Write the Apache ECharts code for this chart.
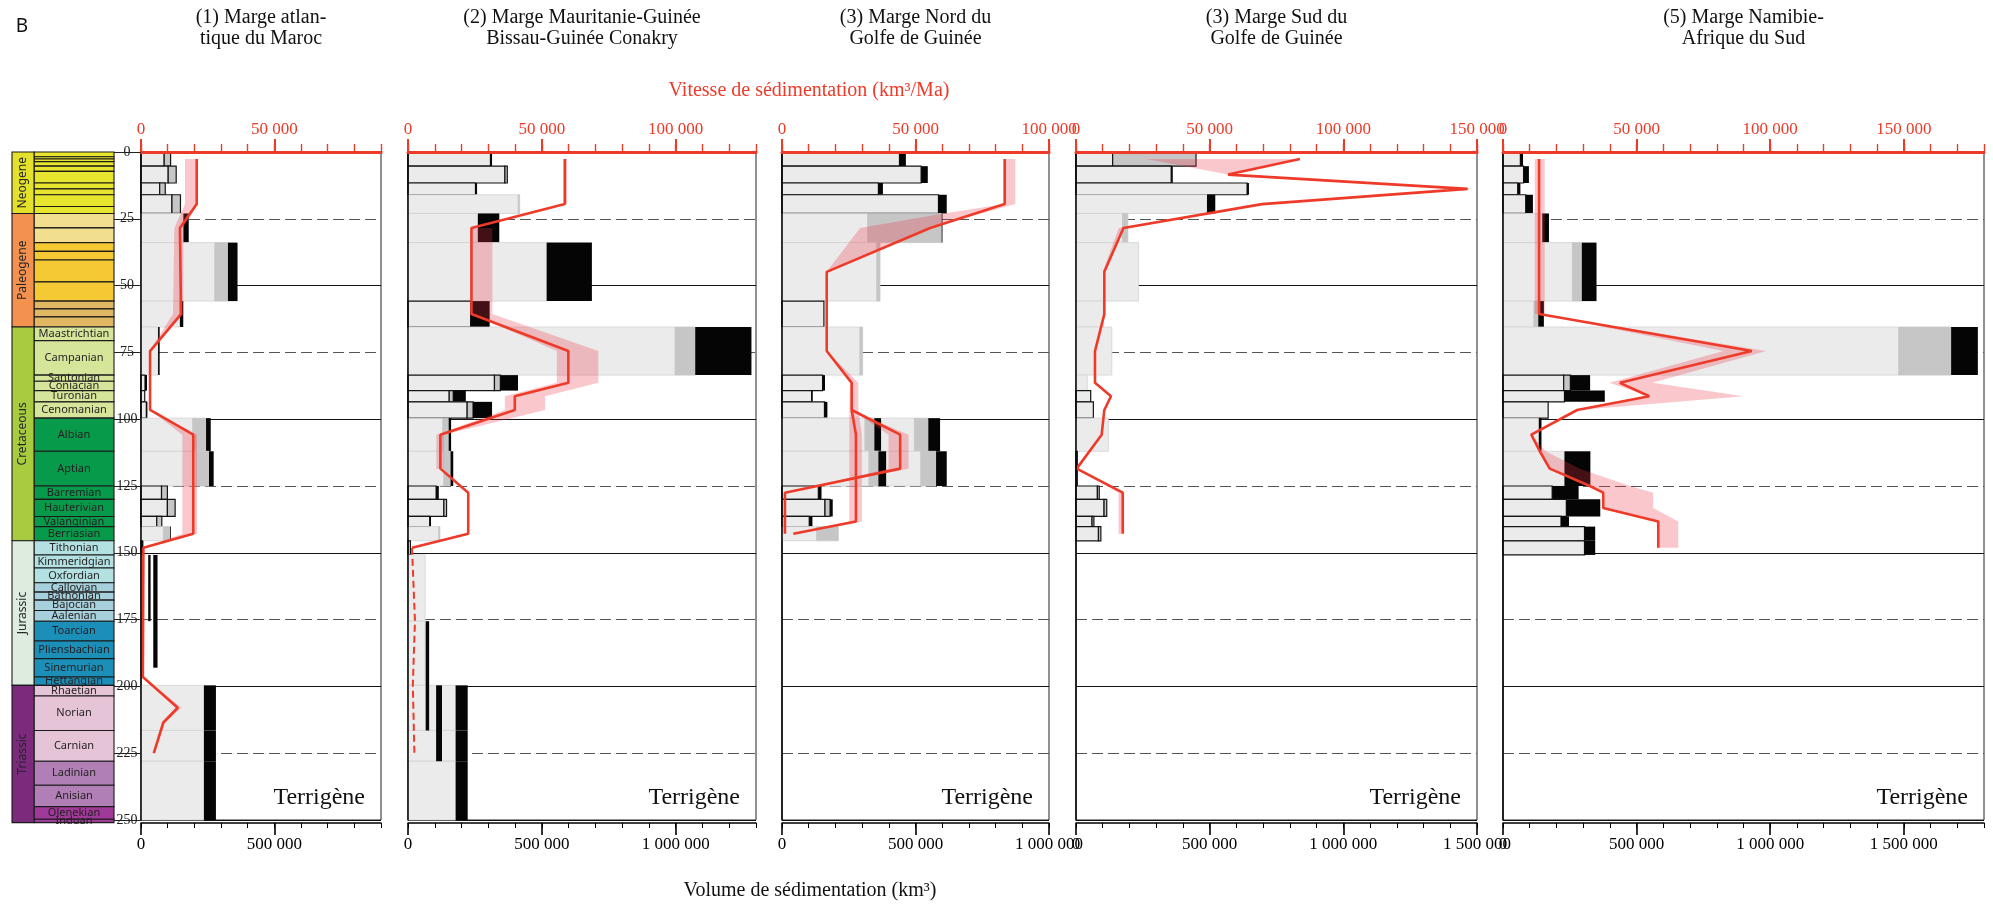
<!DOCTYPE html>
<html>
<head>
<meta charset="utf-8">
<title>Vitesse et volume de sédimentation</title>
<script src="https://cdn.jsdelivr.net/npm/echarts@6/dist/echarts.min.js"></script>
<style>
  html, body { margin: 0; padding: 0; background: #fff; }
  #chart { width: 1993px; height: 906px; }
</style>
</head>
<body>
<div id="chart"></div>
<script>
// ---------- data ----------
const panelTitles = [
  '(1) Marge atlan-\ntique du Maroc',
  '(2) Marge Mauritanie-Guinée\nBissau-Guinée Conakry',
  '(3) Marge Nord du\nGolfe de Guinée',
  '(3) Marge Sud du\nGolfe de Guinée',
  '(5) Marge Namibie-\nAfrique du Sud'
];
const rateMax = [90000, 130000, 100000, 150000, 180000];       // km3/Ma
const volMax = [900000, 1300000, 1000000, 1500000, 1800000];   // km3

// bars: [age top, age base, light grey, mid grey, black, outlined]
const bars1 = [
  [0, 5.3, 87000, 24000, 0, 1],
  [5.3, 11.6, 102000, 30000, 0, 1],
  [11.6, 16.0, 70000, 21000, 0, 1],
  [16.0, 23.0, 116000, 32000, 0, 1],
  [23.0, 33.9, 159000, 0, 20000, 0],
  [33.9, 55.8, 277000, 49000, 36000, 0],
  [55.8, 65.5, 146000, 0, 12500, 0],
  [65.5, 83.5, 64000, 0, 6000, 0],
  [83.5, 89.3, 15000, 0, 7500, 1],
  [89.3, 93.5, 14000, 0, 0, 1],
  [93.5, 99.6, 20000, 0, 4000, 1],
  [99.6, 112.0, 194000, 50000, 17500, 0],
  [112.0, 125.0, 206000, 49000, 17500, 0],
  [125.0, 130.0, 77000, 22000, 0, 1],
  [130.0, 136.4, 99000, 29000, 0, 1],
  [136.4, 140.2, 59000, 19000, 0, 1],
  [140.2, 145.5, 84000, 25000, 3000, 0],
  [145.5, 150.8, 5000, 0, 4000, 1],
  [199.6, 216.5, 236000, 0, 45000, 0],
  [216.5, 228.0, 236000, 0, 45000, 0],
  [228.0, 250.0, 236000, 0, 45000, 0]
];
const bars2 = [
  [0, 5.3, 308000, 0, 6000, 1],
  [5.3, 11.6, 362000, 9000, 0, 1],
  [11.6, 16.0, 252000, 0, 6000, 1],
  [16.0, 23.0, 412000, 5000, 0, 0],
  [23.0, 33.9, 261000, 0, 80000, 0],
  [33.9, 55.8, 518000, 0, 169000, 0],
  [55.8, 65.5, 234000, 0, 71000, 1],
  [65.5, 83.5, 998000, 75000, 210000, 0],
  [83.5, 89.3, 323000, 22000, 66000, 1],
  [89.3, 93.5, 154000, 15000, 47000, 1],
  [93.5, 99.6, 221000, 22000, 71000, 1],
  [99.6, 112.0, 130000, 22000, 9000, 0],
  [112.0, 125.0, 134000, 25000, 10000, 0],
  [125.0, 130.0, 105000, 0, 10000, 1],
  [130.0, 136.4, 134000, 10000, 0, 1],
  [136.4, 140.2, 81000, 0, 5000, 1],
  [140.2, 145.5, 115000, 4000, 0, 0],
  [145.5, 150.8, 9000, 0, 0, 1],
  [150.8, 175.6, 64000, 0, 0, 0],
  [175.6, 199.6, 64000, 0, 0, 0],
  [199.6, 216.5, 178000, 0, 45000, 0],
  [216.5, 228.0, 178000, 0, 45000, 0],
  [228.0, 250.0, 178000, 0, 45000, 0]
];
const bars3 = [
  [0, 5.3, 440000, 0, 24000, 1],
  [5.3, 11.6, 521000, 0, 25000, 1],
  [11.6, 16.0, 361000, 0, 17000, 1],
  [16.0, 23.0, 586000, 0, 31000, 1],
  [23.0, 33.9, 321000, 277000, 3000, 0],
  [33.9, 55.8, 355000, 12000, 0, 0],
  [55.8, 65.5, 157000, 0, 0, 1],
  [65.5, 83.5, 292000, 10000, 0, 0],
  [83.5, 89.3, 152000, 0, 9000, 1],
  [89.3, 93.5, 111000, 0, 4000, 1],
  [93.5, 99.6, 159000, 0, 11000, 1],
  [99.6, 112.0, 496000, 52000, 44000, 0],
  [99.6, 112.0, 311000, 35000, 25000, 0],
  [112.0, 125.0, 520000, 57000, 40000, 0],
  [112.0, 125.0, 326000, 35000, 29000, 0],
  [125.0, 130.0, 136000, 0, 12000, 1],
  [130.0, 136.4, 161000, 19000, 10000, 1],
  [136.4, 140.2, 102000, 0, 12000, 1],
  [140.2, 145.5, 130000, 81000, 0, 0]
];
const bars4 = [
  [0, 5.3, 137000, 312000, 0, 1],
  [5.3, 11.6, 356000, 0, 6000, 1],
  [11.6, 16.0, 640000, 0, 7000, 1],
  [16.0, 23.0, 490000, 0, 31000, 0],
  [23.0, 33.9, 174000, 20000, 0, 0],
  [33.9, 55.8, 234000, 0, 0, 0],
  [55.8, 65.5, 102000, 0, 0, 0],
  [65.5, 83.5, 134000, 0, 0, 0],
  [83.5, 89.3, 42000, 0, 0, 0],
  [89.3, 93.5, 55000, 0, 0, 1],
  [93.5, 99.6, 65000, 0, 0, 1],
  [99.6, 112.0, 121000, 0, 0, 0],
  [112.0, 125.0, 5000, 0, 0, 1],
  [125.0, 130.0, 80000, 7000, 0, 1],
  [130.0, 136.4, 105000, 10000, 0, 1],
  [136.4, 140.2, 60000, 7000, 0, 1],
  [140.2, 145.5, 84000, 9000, 0, 1]
];
const bars5 = [
  [0, 5.3, 65000, 0, 10000, 1],
  [5.3, 11.6, 77000, 0, 20000, 1],
  [11.6, 16.0, 55000, 0, 10000, 1],
  [16.0, 23.0, 85000, 0, 27000, 1],
  [23.0, 33.9, 147000, 0, 25000, 0],
  [33.9, 55.8, 260000, 35000, 55000, 0],
  [55.8, 65.5, 116000, 16000, 21000, 0],
  [65.5, 83.5, 1481000, 196000, 100000, 0],
  [83.5, 89.3, 227000, 25000, 74000, 1],
  [89.3, 93.5, 230000, 0, 151000, 1],
  [93.5, 99.6, 169000, 0, 0, 1],
  [99.6, 112.0, 134000, 0, 10000, 0],
  [112.0, 125.0, 230000, 0, 97000, 0],
  [125.0, 130.0, 184000, 0, 99000, 1],
  [130.0, 136.4, 237000, 0, 127000, 1],
  [136.4, 140.2, 217000, 0, 30000, 1],
  [140.2, 145.5, 305000, 0, 40000, 1],
  [145.5, 150.8, 305000, 0, 40000, 1]
];

// loose black strips: [age top, age base, volume from, volume to]
const strips1 = [[150.8, 175.6, 27000, 36000], [150.8, 193.0, 46000, 62000]];
const strips2 = [[175.6, 216.5, 66000, 79000], [199.6, 228.0, 105000, 127000]];

// rate curves: [age, rate]
const line1 = [[2.65, 20900], [19.5, 20900], [28.45, 14600], [60.65, 15000], [74.5, 3400], [96.55, 3400],
  [105.8, 19600], [142.85, 19600], [148.15, 900], [196.5, 700], [208, 13800], [213.5, 8400], [225, 4800]];
const line2 = [[2.65, 58600], [19.5, 58600], [28.45, 23700], [60.65, 23700], [74.5, 59900], [86.4, 59900],
  [91.4, 39900], [96.55, 39900], [105.8, 12100], [118.5, 12100], [127.5, 22500], [142.85, 22500], [148.15, 1500]];
const line2Dashed = [[148.15, 1500], [175.6, 2600], [199.6, 1800], [225, 2400]];
const line3a = [[2.65, 83400], [19.5, 83400], [28.45, 55500], [44.85, 16750], [74.5, 16750], [86.4, 26100],
  [96.55, 26100], [105.8, 27700], [138.3, 27700], [142.85, 4250]];
const line3b = [[96.55, 26100], [105.8, 44250], [118.5, 44250], [127.5, 1100], [142.85, 1100]];
const line4 = [[2.65, 83750], [8.45, 56900], [13.8, 146500], [19.5, 69600], [28.45, 17750], [44.85, 10600],
  [60.65, 10600], [74.5, 7100], [86.4, 7100], [91.4, 13100], [96.55, 10600], [105.8, 9600], [118.5, 250],
  [127.5, 17500], [142.85, 17500]];
const line5 = [[2.65, 13500], [60.65, 13500], [74.5, 93100], [86.4, 43750], [91.4, 54750], [96.55, 27750],
  [105.8, 10600], [112, 13750], [118.5, 17500], [125, 32500], [127.5, 37500], [133.2, 37500], [138.3, 58100],
  [148.15, 58100]];

// uncertainty bands: each band is a list of [age, low rate, high rate]
const bands1 = [
  [[2.65, 16500, 21300], [19.5, 16500, 21300], [28.45, 12500, 15900], [60.65, 12000, 15900], [74.5, 3200, 3600]],
  [[96.55, 3400, 3400], [105.8, 15500, 21000], [142.85, 15500, 21000], [148.15, 900, 900]],
  [[196.5, 700, 700], [208, 12800, 15200], [213.5, 7800, 9000], [225, 4600, 5000]]
];
const bands2 = [
  [[2.65, 58000, 59400], [19.5, 58000, 59400]],
  [[28.45, 23700, 31500], [60.65, 23700, 31500], [74.5, 55600, 71100], [86.4, 55600, 71100],
   [91.4, 36200, 51200], [96.55, 36200, 51200], [105.8, 10600, 13400], [118.5, 10600, 13400]]
];
const bands3 = [
  [[2.65, 83400, 87400], [19.5, 83400, 87400], [23.0, 60500, 74500], [28.45, 29250, 55500], [44.85, 16750, 17500]],
  [[74.5, 16750, 16750], [86.4, 25500, 28600], [96.55, 25200, 28600], [105.8, 25200, 29900], [138.3, 25200, 29900], [142.85, 4250, 4250]],
  [[96.55, 26100, 26100], [105.8, 39900, 47400], [118.5, 39900, 47400], [127.5, 1100, 1100]]
];
const bands4 = [
  [[2.65, 26250, 83750], [8.45, 56900, 56900]],
  [[8.45, 56900, 56900], [13.8, 146500, 149000], [19.5, 69600, 69600]],
  [[19.5, 69600, 69600], [28.45, 16000, 17750], [44.85, 10000, 10600]],
  [[118.5, 250, 250], [127.5, 15900, 17500], [142.85, 15900, 17500]]
];
const bands5 = [
  [[2.65, 11900, 15600], [60.65, 11900, 15600]],
  [[60.65, 13500, 13500], [74.5, 82500, 98500], [86.4, 39750, 56000], [91.4, 54750, 90000], [96.55, 27750, 28500]],
  [[105.8, 10600, 10600], [112, 13750, 16000], [118.5, 17500, 28700], [125, 32500, 47500], [127.5, 37500, 56200],
   [133.2, 37500, 56200], [138.3, 58100, 65600], [148.15, 58100, 65600]]
];

// geological time scale (Ma)
const eraNames = ['Neogene', 'Paleogene', 'Cretaceous', 'Jurassic', 'Triassic'];
const eraBase = [23.0, 65.5, 145.5, 199.6, 251.0];
const stageBase = [1.8, 2.6, 3.6, 5.3, 7.25, 11.6, 13.8, 16.0, 20.4, 23.0,
  28.4, 33.9, 37.2, 40.4, 48.6, 55.8, 58.7, 61.7, 65.5,
  70.6, 83.5, 85.8, 89.3, 93.5, 99.6, 112.0, 125.0, 130.0, 136.4, 140.2, 145.5,
  150.8, 155.7, 161.2, 164.7, 167.7, 171.6, 175.6, 183.0, 189.6, 196.5, 199.6,
  203.6, 216.5, 228.0, 237.0, 245.0, 249.7, 251.0];
const stageNames = ['', '', '', '', '', '', '', '', '', '',
  '', '', '', '', '', '', '', '', '',
  'Maastrichtian', 'Campanian', 'Santonian', 'Coniacian', 'Turonian', 'Cenomanian',
  'Albian', 'Aptian', 'Barremian', 'Hauterivian', 'Valanginian', 'Berriasian',
  'Tithonian', 'Kimmeridgian', 'Oxfordian', 'Callovian', 'Bathonian', 'Bajocian', 'Aalenian',
  'Toarcian', 'Pliensbachian', 'Sinemurian', 'Hettangian',
  'Rhaetian', 'Norian', 'Carnian', 'Ladinian', 'Anisian', 'Olenekian', 'Induan'];
const stageEpoch = [
  'Neogene', 'Neogene', 'Neogene', 'Neogene', 'Neogene', 'Neogene', 'Neogene', 'Neogene', 'Neogene', 'Neogene',
  'Oligocene', 'Oligocene', 'Eocene', 'Eocene', 'Eocene', 'Eocene', 'Paleocene', 'Paleocene', 'Paleocene',
  'LateK', 'LateK', 'LateK', 'LateK', 'LateK', 'LateK', 'EarlyK', 'EarlyK', 'EarlyK', 'EarlyK', 'EarlyK', 'EarlyK',
  'LateJ', 'LateJ', 'LateJ', 'MidJ', 'MidJ', 'MidJ', 'MidJ', 'EarlyJ', 'EarlyJ', 'EarlyJ', 'EarlyJ',
  'LateT', 'LateT', 'LateT', 'MidT', 'MidT', 'EarlyT', 'EarlyT'];

// ---------- styles / layout ----------
const SERIF = 'Liberation Serif';
const SANS = 'Noto Sans';
const RED = '#EE3A29';
const BAND = 'rgba(235, 50, 65, 0.27)';
const eraColour = { Neogene: '#E4E12C', Paleogene: '#F3924F', Cretaceous: '#A8CB40', Jurassic: '#DDECDF', Triassic: '#7B2A7C' };
const epochColour = {
  Neogene: '#E7E52E', Oligocene: '#F2DE8F', Eocene: '#F5C933', Paleocene: '#E0B863',
  LateK: '#D5E59A', EarlyK: '#079A4B', LateJ: '#B3E1E2', MidJ: '#A6D0DB', EarlyJ: '#1C8FB8',
  LateT: '#E6C4D8', MidT: '#B07FB6', EarlyT: '#A03A99'
};
const panelLeft = [141, 408, 782, 1076, 1503];
const panelWidth = [240, 348, 267, 401, 481];
const PLOT_TOP = 152, PLOT_H = 668;
const ERA_W = 0.216;

const barSets = [bars1, bars2, bars3, bars4, bars5];
const stripSets = [strips1, strips2, [], [], []];
const lineSets = [[line1], [line2], [line3a, line3b], [line4], [line5]];
const dashedSets = [[], [line2Dashed], [], [], []];
const bandSets = [bands1, bands2, bands3, bands4, bands5];

function spaced(v) { return String(v).replace(/\B(?=(\d{3})+(?!\d))/g, ' '); }
function majors(max, step) { const out = []; for (let v = 0; v <= max; v += step) out.push(v); return out; }

function barItem(params, api) {
  const top = api.value(0), base = api.value(1);
  const a = api.value(2), b = api.value(3), c = api.value(4), boxed = api.value(5);
  const p0 = api.coord([0, top]);
  const y1 = api.coord([0, base])[1];
  const xa = api.coord([a, top])[0], xb = api.coord([a + b, top])[0], xc = api.coord([a + b + c, top])[0];
  const y = p0[1], h = y1 - p0[1];
  const edge = boxed ? '#151515' : '#d3d3d3';
  const lw = boxed ? 1.2 : 0.8;
  const kids = [];
  if (a > 0) kids.push({ type: 'rect', shape: { x: p0[0], y: y, width: xa - p0[0], height: h }, style: { fill: '#ebebeb', stroke: edge, lineWidth: lw } });
  if (b > 0) kids.push({ type: 'rect', shape: { x: xa, y: y, width: xb - xa, height: h }, style: { fill: '#c6c6c6', stroke: boxed ? edge : '#c6c6c6', lineWidth: lw } });
  if (c > 0) kids.push({ type: 'rect', shape: { x: xb, y: y, width: xc - xb, height: h }, style: { fill: '#050505' } });
  return { type: 'group', children: kids };
}

function stripItem(params, api) {
  const p = api.coord([api.value(2), api.value(0)]);
  const q = api.coord([api.value(3), api.value(1)]);
  return { type: 'rect', shape: { x: p[0], y: p[1], width: q[0] - p[0], height: q[1] - p[1] }, style: { fill: '#050505' } };
}

function bandItem(bands) {
  return function (params, api) {
    const rows = bands[params.dataIndex];
    const hi = rows.map(r => api.coord([r[2], r[0]]));
    const lo = rows.slice().reverse().map(r => api.coord([r[1], r[0]]));
    return { type: 'polygon', shape: { points: hi.concat(lo) }, style: { fill: BAND } };
  };
}

function textStyle(text, size, family, fill) {
  return { text: text, fontSize: size, fontFamily: family, fill: fill,
    align: 'center', verticalAlign: 'middle', textAlign: 'center', textVerticalAlign: 'middle' };
}

function stageItem(params, api) {
  const i = params.dataIndex;
  const p0 = api.coord([ERA_W, api.value(0)]);
  const p1 = api.coord([1, api.value(1)]);
  return { type: 'group', children: [
    { type: 'rect', shape: { x: p0[0], y: p0[1], width: p1[0] - p0[0], height: p1[1] - p0[1] },
      style: { fill: epochColour[stageEpoch[i]], stroke: '#1b1b1b', lineWidth: 1.1 } },
    { type: 'text', x: (p0[0] + p1[0]) / 2, y: (p0[1] + p1[1]) / 2, style: textStyle(stageNames[i], 11, SANS, '#231f20') }
  ] };
}

function eraItem(params, api) {
  const i = params.dataIndex;
  const p0 = api.coord([0, api.value(0)]);
  const p1 = api.coord([ERA_W, api.value(1)]);
  return { type: 'group', children: [
    { type: 'rect', shape: { x: p0[0], y: p0[1], width: p1[0] - p0[0], height: p1[1] - p0[1] },
      style: { fill: eraColour[eraNames[i]], stroke: '#1b1b1b', lineWidth: 1.1 } },
    { type: 'text', x: (p0[0] + p1[0]) / 2, y: (p0[1] + p1[1]) / 2, rotation: Math.PI / 2,
      style: textStyle(eraNames[i], 12, SANS, '#262626') }
  ] };
}

// serif tick labels via rich text
function serifRich(size, colour) {
  return { s: { fontFamily: SERIF, fontSize: size, color: colour } };
}

// ---------- build option ----------
const grids = [], xAxes = [], yAxes = [], series = [], graphics = [];

panelLeft.forEach(function (left, i) {
  grids.push({ left: left, top: PLOT_TOP, width: panelWidth[i], height: PLOT_H, show: true, borderColor: '#222', borderWidth: 1 });
  const xv = xAxes.length;
  // volume axis (bottom)
  xAxes.push({
    gridIndex: i, type: 'value', position: 'bottom', offset: 3, min: 0, max: volMax[i], interval: 100000,
    axisLine: { show: true, onZero: false, lineStyle: { color: '#000', width: 1.5 } },
    axisTick: { show: true, length: 5, lineStyle: { color: '#000', width: 1 } },
    axisLabel: { margin: 13, color: '#000', fontFamily: SERIF, fontSize: 17, showMinLabel: true, showMaxLabel: true,
      rich: serifRich(17, '#000'),
      formatter: v => (v % 500000 === 0 ? '{s|' + spaced(v) + '}' : '') },
    splitLine: { show: false }
  });
  xAxes.push({
    gridIndex: i, type: 'value', position: 'bottom', offset: 3, min: 0, max: volMax[i],
    axisLine: { show: false, onZero: false },
    axisTick: { show: true, length: 12, customValues: majors(volMax[i], 500000), lineStyle: { color: '#000', width: 1.6 } },
    axisLabel: { show: false }, splitLine: { show: false }
  });
  const xr = xAxes.length;
  // rate axis (top)
  xAxes.push({
    gridIndex: i, type: 'value', position: 'top', min: 0, max: rateMax[i], interval: 10000, z: 10,
    axisLine: { show: true, onZero: false, lineStyle: { color: RED, width: 3 } },
    axisTick: { show: true, length: 8, lineStyle: { color: RED, width: 1.4 } },
    axisLabel: { margin: 14, color: RED, fontFamily: SERIF, fontSize: 17, showMinLabel: true, showMaxLabel: true,
      rich: serifRich(17, RED),
      formatter: v => (v % 50000 === 0 ? '{s|' + spaced(v) + '}' : '') },
    splitLine: { show: false }
  });
  xAxes.push({
    gridIndex: i, type: 'value', position: 'top', min: 0, max: rateMax[i], z: 10,
    axisLine: { show: false, onZero: false },
    axisTick: { show: true, length: 13, customValues: majors(rateMax[i], 50000), lineStyle: { color: RED, width: 2 } },
    axisLabel: { show: false }, splitLine: { show: false }
  });

  const yi = yAxes.length;
  yAxes.push({
    gridIndex: i, type: 'value', inverse: true, min: 0, max: 250, interval: 25, position: 'left',
    axisLine: { show: false, onZero: false }, axisTick: { show: false }, axisLabel: { show: false },
    splitLine: { show: true, lineStyle: { color: '#555', width: 1, type: [11, 5] } }
  });
  yAxes.push({
    gridIndex: i, type: 'value', inverse: true, min: 0, max: 250, interval: 50, position: 'left',
    axisLine: { show: false, onZero: false }, axisTick: { show: false }, axisLabel: { show: false },
    splitLine: { show: true, lineStyle: { color: '#111', width: 1 } }
  });
  yAxes.push({
    gridIndex: i, type: 'value', inverse: true, min: 0, max: 250, interval: 25, position: 'left', z: 10,
    axisLine: { show: true, onZero: false, lineStyle: { color: '#000', width: 1.5 } },
    axisTick: { show: i === 0, length: 27, lineStyle: { color: '#222', width: 1 } },
    axisLabel: { show: i === 0, align: 'center', margin: 14, fontFamily: SERIF, fontSize: 14, color: '#222',
      rich: serifRich(14, '#222'), formatter: v => '{s|' + v + '}' },
    splitLine: { show: false }
  });

  series.push({ type: 'custom', xAxisIndex: xv, yAxisIndex: yi, data: barSets[i], renderItem: barItem, z: 2 });
  if (stripSets[i].length) {
    series.push({ type: 'custom', xAxisIndex: xv, yAxisIndex: yi, data: stripSets[i], renderItem: stripItem, z: 2 });
  }
  series.push({ type: 'custom', xAxisIndex: xr, yAxisIndex: yi, data: bandSets[i].map((b, k) => [k, 0]),
    renderItem: bandItem(bandSets[i]), z: 3 });
  lineSets[i].forEach(function (ln) {
    series.push({ type: 'line', xAxisIndex: xr, yAxisIndex: yi, data: ln.map(r => [r[1], r[0]]),
      symbol: 'none', lineStyle: { color: RED, width: 2.6 }, z: 5 });
  });
  dashedSets[i].forEach(function (ln) {
    series.push({ type: 'line', xAxisIndex: xr, yAxisIndex: yi, data: ln.map(r => [r[1], r[0]]),
      symbol: 'none', lineStyle: { color: RED, width: 2, type: [7, 4] }, z: 5 });
  });

  graphics.push({ type: 'text', x: left + panelWidth[i] / 2, y: 28,
    style: Object.assign(textStyle(panelTitles[i], 20, SERIF, '#111'), { lineHeight: 21 }) });
  graphics.push({ type: 'text', x: left + panelWidth[i] - 16, y: 798,
    style: { text: 'Terrigène', fontSize: 24, fontFamily: SERIF, fill: '#111',
      align: 'right', verticalAlign: 'middle', textAlign: 'right', textVerticalAlign: 'middle' } });
});

// time scale column
const gt = grids.length;
grids.push({ left: 12, top: PLOT_TOP, width: 102, height: PLOT_H, show: false });
const gx = xAxes.length;
xAxes.push({ gridIndex: gt, type: 'value', min: 0, max: 1, show: false });
const gy = yAxes.length;
yAxes.push({ gridIndex: gt, type: 'value', inverse: true, min: 0, max: 250, show: false });
series.push({ type: 'custom', xAxisIndex: gx, yAxisIndex: gy, z: 2,
  data: stageBase.map((b, i) => [i === 0 ? 0 : stageBase[i - 1], b]), renderItem: stageItem });
series.push({ type: 'custom', xAxisIndex: gx, yAxisIndex: gy, z: 2,
  data: eraBase.map((b, i) => [i === 0 ? 0 : eraBase[i - 1], b]), renderItem: eraItem });

graphics.push({ type: 'text', x: 22, y: 27, style: textStyle('B', 19, SANS, '#111') });
graphics.push({ type: 'text', x: 809, y: 91, style: textStyle('Vitesse de sédimentation (km³/Ma)', 20, SERIF, RED) });
graphics.push({ type: 'text', x: 810, y: 891, style: textStyle('Volume de sédimentation (km³)', 20, SERIF, '#111') });

const chart = echarts.init(document.getElementById('chart'), null, { renderer: 'canvas' });
chart.setOption({
  animation: false,
  backgroundColor: '#ffffff',
  textStyle: { fontFamily: SERIF },
  grid: grids,
  xAxis: xAxes,
  yAxis: yAxes,
  series: series,
  graphic: graphics
});
</script>
</body>
</html>
